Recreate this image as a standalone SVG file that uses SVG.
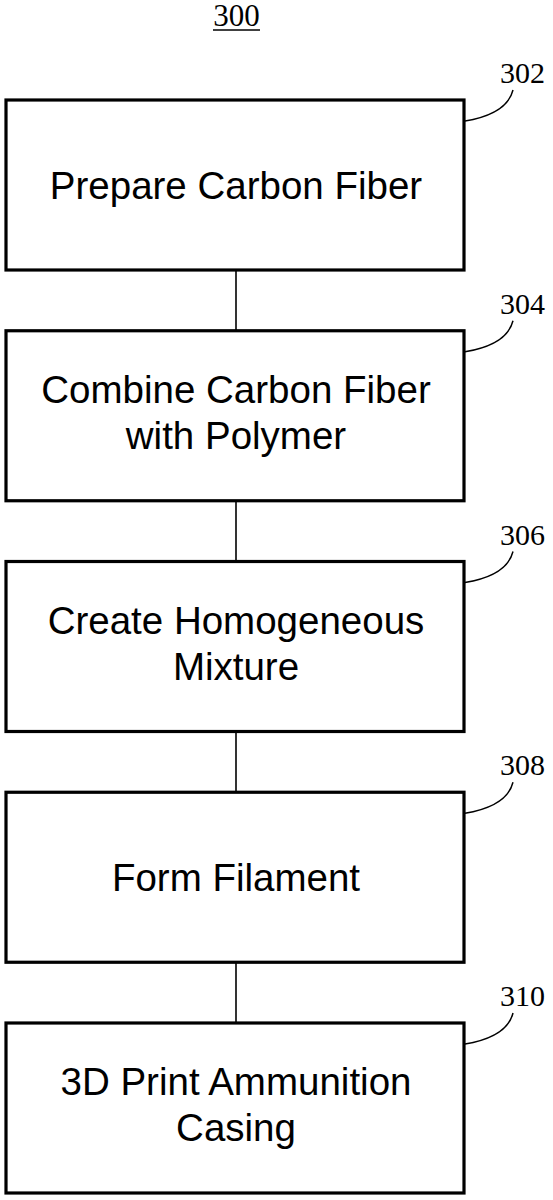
<svg xmlns="http://www.w3.org/2000/svg" width="553" height="1200" viewBox="0 0 553 1200">
<style>
.box{fill:#fff;stroke:#000;stroke-width:3.2}
.lead{fill:none;stroke:#000;stroke-width:1.5}
.conn{stroke:#000;stroke-width:1.6}
.t{font-family:"Liberation Sans",Arial,sans-serif;font-size:38.5px;text-anchor:middle;fill:#000}
.ref{font-family:"Liberation Serif","Times New Roman",serif;font-size:30px;fill:#000}
</style>
<rect width="553" height="1200" fill="#fff"/>
<g id="title">
<text x="236.5" y="26" class="ref" style="font-size:31px" text-anchor="middle">300</text>
<line x1="213" y1="30" x2="260" y2="30" stroke="#000" stroke-width="1.5"/>
</g>
<g id="connectors">
<line class="conn" x1="236" y1="270" x2="236" y2="330.75"/>
<line class="conn" x1="236" y1="500.75" x2="236" y2="561.5"/>
<line class="conn" x1="236" y1="731.5" x2="236" y2="792.25"/>
<line class="conn" x1="236" y1="962.25" x2="236" y2="1023"/>
</g>
<g id="n302">
<rect class="box" x="6" y="100" width="458" height="170"/>
<text class="t" x="236" y="199">Prepare Carbon Fiber</text>
<path class="lead" d="M465,121 Q507,114 513,90"/>
<text class="ref" x="500" y="83">302</text>
</g>
<g id="n304">
<rect class="box" x="6" y="330.75" width="458" height="170"/>
<text class="t" x="236" y="402.5">Combine Carbon Fiber</text>
<text class="t" x="236" y="448.5">with Polymer</text>
<path class="lead" d="M465,351.75 Q507,344.75 513,320.75"/>
<text class="ref" x="500" y="313.75">304</text>
</g>
<g id="n306">
<rect class="box" x="6" y="561.5" width="458" height="170"/>
<text class="t" x="236" y="633.5">Create Homogeneous</text>
<text class="t" x="236" y="679.5">Mixture</text>
<path class="lead" d="M465,582.5 Q507,575.5 513,551.5"/>
<text class="ref" x="500" y="544.5">306</text>
</g>
<g id="n308">
<rect class="box" x="6" y="792.25" width="458" height="170"/>
<text class="t" x="236" y="891.25">Form Filament</text>
<path class="lead" d="M465,813.25 Q507,806.25 513,782.25"/>
<text class="ref" x="500" y="775.25">308</text>
</g>
<g id="n310">
<rect class="box" x="6" y="1023" width="458" height="170"/>
<text class="t" x="236" y="1095">3D Print Ammunition</text>
<text class="t" x="236" y="1141">Casing</text>
<path class="lead" d="M465,1044 Q507,1037 513,1013"/>
<text class="ref" x="500" y="1006">310</text>
</g>
</svg>
